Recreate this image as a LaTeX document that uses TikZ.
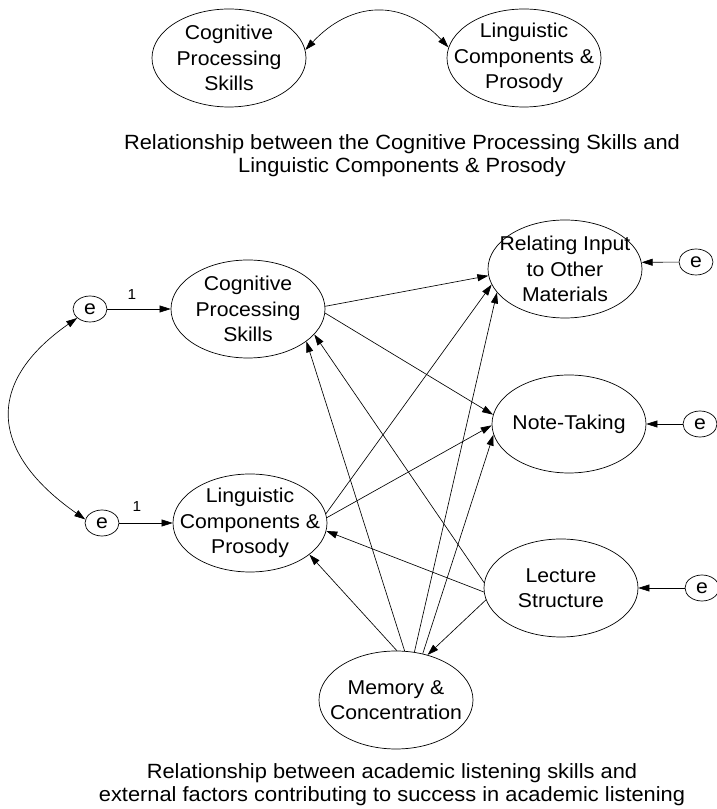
\documentclass[tikz,border=0pt]{standalone}
\usepackage{fontspec}
\setmainfont[FakeStretch=1.06]{Liberation Sans}
\usetikzlibrary{arrows.meta,shapes.geometric}
\begin{document}
\begin{tikzpicture}[x=1pt,y=1pt,
  lat/.style={ellipse, draw, line width=0.7pt, minimum width=154pt, minimum height=98pt, inner sep=0pt},
  err/.style={ellipse, draw, line width=0.7pt, minimum width=34pt, minimum height=26pt, inner sep=0pt, font=\fontsize{20}{24}\selectfont},
  txt/.style={align=center, font=\fontsize{20}{25.5}\selectfont, inner sep=0pt},
  captxt/.style={align=center, font=\fontsize{20.6}{23}\selectfont, inner sep=0pt},
  conn/.style={-{Triangle[length=11pt,width=7pt]}, line width=0.65pt},
  twohead/.style={{Triangle[length=11pt,width=7pt]}-{Triangle[length=11pt,width=7pt]}, line width=0.65pt},
  onelbl/.style={font=\fontsize{14.5}{14.5}\selectfont, inner sep=0pt}
]
\useasboundingbox (0,0) rectangle (716,809);

% top model
\node[lat] (tcog) at (229,751) {};
\node[txt] (tcogT) at (tcog) {Cognitive\\Processing\\Skills};
\node[lat] (tling) at (524,751) {};
\node[txt] (tlingT) at (tling) {Linguistic\\Components \&\\Prosody};
\draw[twohead] (tcog.6) to[out=47,in=133,distance=67pt] (tling.172);
\node[captxt] (cap1) at (402,653.5) {Relationship between the Cognitive Processing Skills and\\Linguistic Components \& Prosody};

% bottom model
\node[lat] (cog) at (248,500) {};
\node[txt] (cogT) at (cog) {Cognitive\\Processing\\Skills};
\node[lat] (ling) at (250,286) {};
\node[txt] (lingT) at (ling) {Linguistic\\Components \&\\Prosody};
\node[lat] (rel) at (565,540) {};
\node[txt] (relT) at (rel) {Relating Input\\to Other\\Materials};
\node[lat] (nt) at (569,385) {};
\node[txt] (ntT) at (nt) {Note-Taking};
\node[lat] (lec) at (561,221) {};
\node[txt] (lecT) at (lec) {Lecture\\Structure};
\node[lat] (mem) at (396,109) {};
\node[txt] (memT) at (mem) {Memory \&\\Concentration};

\node[err] (e1) at (90,500) {e};
\node[err] (e2) at (102,286) {e};
\node[err] (erel) at (696,547) {e};
\node[err] (ent) at (700,385) {e};
\node[err] (elec) at (702,221) {e};

\draw[conn] (e1) -- (cog);
\draw[conn] (e2) -- (ling);
\node[onelbl] (one1) at (132,514) {1};
\node[onelbl] (one2) at (137,302) {1};
\draw[twohead] (e1.215) to[out=215,in=145,distance=115pt] (e2.168);

\draw[conn] (erel) -- (rel.5.2);
\draw[conn] (ent) -- (nt);
\draw[conn] (elec) -- (lec);

\draw[conn] (cog.2) -- (rel.185);
\draw[conn] (cog.-3) -- (nt.173);
\draw[conn] (ling.7) -- (rel.192);
\draw[conn] (ling.4) -- (nt.181);
\draw[conn] (mem.69) -- (rel.199);
\draw[conn] (mem.60) -- (nt.188.5);
\draw[conn] (mem.80) -- (cog.-29.5);
\draw[conn] (lec.176) -- (cog.-21.4);
\draw[conn] (lec.183) -- (ling.-6.6);
\draw[conn] (mem.89) -- (ling.-28.4);
\draw[conn] (lec.189) -- (mem.55);

\node[captxt] (cap2) at (392,24) {Relationship between academic listening skills and\\external factors contributing to success in academic listening};
\end{tikzpicture}
\end{document}
